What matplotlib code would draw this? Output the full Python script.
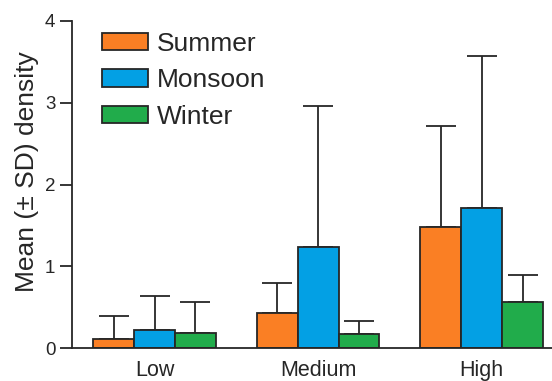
import matplotlib.pyplot as plt
import numpy as np

plt.rcParams['font.family'] = ['Liberation Sans', 'DejaVu Sans']

# Mean and SD of density per season and level
levels = ['Low', 'Medium', 'High']
seasons = ['Summer', 'Monsoon', 'Winter']
summer_mean = [0.11, 0.43, 1.48]
summer_sd = [0.29, 0.37, 1.24]
monsoon_mean = [0.22, 1.24, 1.72]
monsoon_sd = [0.42, 1.72, 1.85]
winter_mean = [0.19, 0.17, 0.57]
winter_sd = [0.38, 0.16, 0.33]

colors = ['#FA7F24', '#03A0E4', '#21AC4B']
ink = '#262626'

means = [summer_mean, monsoon_mean, winter_mean]
sds = [summer_sd, monsoon_sd, winter_sd]

fig = plt.figure(figsize=(5.52, 3.81), dpi=100)
ax = fig.add_axes([72 / 552, 32.7 / 381, 1 - 72 / 552, (348.3 - 21) / 381])

x = np.arange(len(levels))
width = 0.25
for i, season in enumerate(seasons):
    pos = x + (i - 1) * width
    ax.bar(pos, means[i], width, color=colors[i], edgecolor=ink, linewidth=1.3,
           label=season, zorder=2)
    # upper half of the SD only
    ax.errorbar(pos, means[i], yerr=[np.zeros(len(levels)), sds[i]], fmt='none',
                ecolor=ink, elinewidth=1.3, capsize=11, capthick=1.3, zorder=1)

ax.set_xlim(-0.505, 2.43)
ax.set_ylim(0, 4)
ax.set_yticks([0, 1, 2, 3, 4])
ax.set_xticks(x)
ax.set_xticklabels(levels, fontsize=15.5, color=ink)
ax.tick_params(axis='x', length=0, pad=8.5)
ax.tick_params(axis='y', length=9, width=1.3, color=ink, labelsize=13.5,
               labelcolor=ink, pad=3)

for side in ['top', 'right']:
    ax.spines[side].set_visible(False)
for side in ['left', 'bottom']:
    ax.spines[side].set_color(ink)
    ax.spines[side].set_linewidth(1.3)

ax.set_ylabel('Mean (± SD) density', fontsize=19, color=ink)
ax.yaxis.set_label_coords(-0.068, 0.54)

leg = ax.legend(loc='upper left', bbox_to_anchor=(102 / 552, 1 - 32 / 381),
                bbox_transform=fig.transFigure, frameon=False, fontsize=19,
                handlelength=1.74, handleheight=0.64, handletextpad=0.34,
                labelspacing=0.47, borderpad=0, borderaxespad=0)
for t in leg.get_texts():
    t.set_color(ink)

fig.savefig('out.png', dpi=100)
